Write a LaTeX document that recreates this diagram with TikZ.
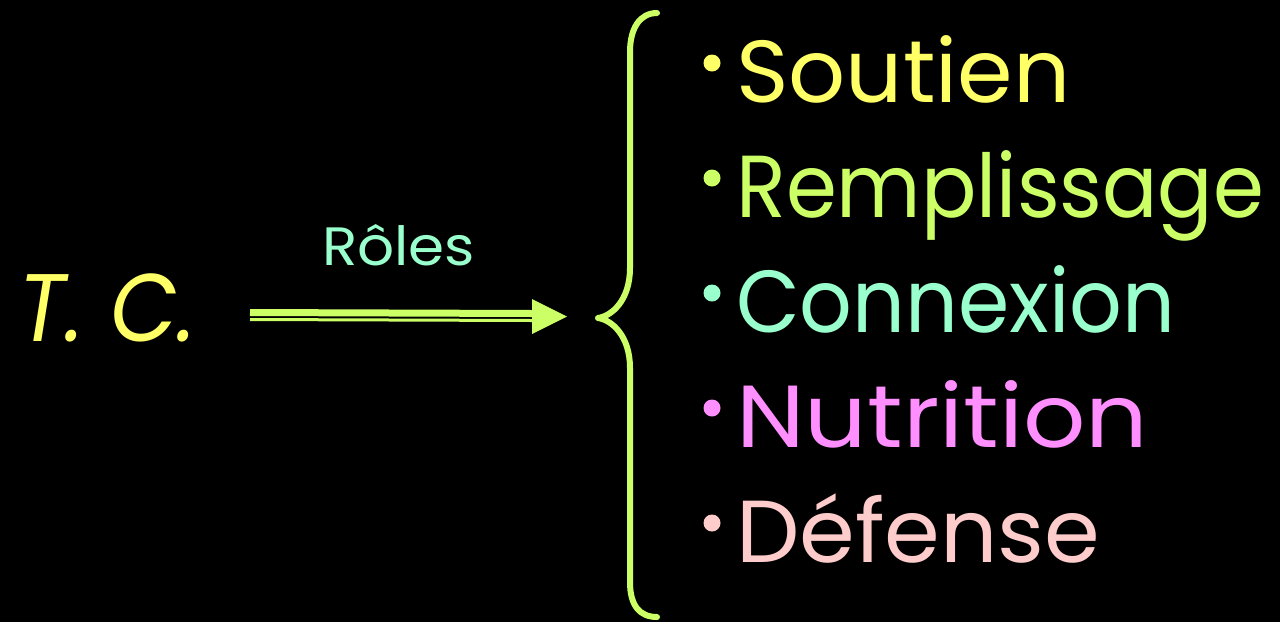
\documentclass[tikz,border=0pt]{standalone}
\usepackage{fontspec}
\setmainfont{Poppins}
\definecolor{cyellow}{HTML}{FFFF66}
\definecolor{clime}{HTML}{CCFF66}
\definecolor{cmint}{HTML}{99FFCC}
\definecolor{cpink}{HTML}{FF8FFF}
\definecolor{crose}{HTML}{FFCCCC}
\newcommand{\fitw}[2]{\resizebox{#1}{\height}{#2}}
\tikzset{
  item/.style={anchor=base west, inner sep=0pt, font=\fontsize{88}{88}\selectfont},
  dot/.style={circle, inner sep=0pt, minimum size=17pt, fill=#1},
  bracestyle/.style={draw=clime, line width=6pt, line cap=round, line join=round},
}
\begin{document}
\begin{tikzpicture}[x=1pt,y=-1pt]
\fill[black] (0,0) rectangle (1280,622);
\useasboundingbox (0,0) rectangle (1280,622);
% left label
\node[anchor=base west, inner sep=0pt, text=cyellow, font=\fontsize{96}{96}\selectfont\itshape] (tc) at (18,341) {\fitw{178pt}{T. C.}};
\node[anchor=base west, inner sep=0pt, text=cmint, font=\fontsize{54}{54}\selectfont] (roles) at (322,265) {\fitw{153pt}{Rôles}};
% arrow
\coordinate (as) at (250,316);
\coordinate (ae) at (567,316.5);
\draw[clime, line width=3pt] ([yshift=-3.5pt]as) -- ([xshift=-35pt,yshift=-4pt]ae);
\draw[clime, line width=7pt] ([yshift=3.5pt]as) -- ([xshift=-35pt,yshift=3pt]ae);
\fill[clime] (ae) -- ++(-35,-17.5) -- ++(0,35) -- cycle;
% brace
\coordinate (btip) at (598,318);
\draw[bracestyle] (657,13) .. controls (640,13) and (630,28) .. (630,52)
  -- (630,268) .. controls (630,300) and (612,316) .. (btip)
  .. controls (612,320) and (630,336) .. (630,368)
  -- (630,582) .. controls (630,606) and (640,617) .. (657,617);
% items
\node[dot=cyellow] (b1) at (712,63) {};
\node[item, text=cyellow] (i1) at (736,102) {\fitw{334pt}{Soutien}};
\node[dot=clime] (b2) at (712,178) {};
\node[item, text=clime] (i2) at (736,217) {\fitw{528pt}{Remplissage}};
\node[dot=cmint] (b3) at (712,293) {};
\node[item, text=cmint] (i3) at (736,332) {\fitw{439pt}{Connexion}};
\node[dot=cpink] (b4) at (712,408) {};
\node[item, text=cpink] (i4) at (736,447) {\fitw{412pt}{Nutrition}};
\node[dot=crose] (b5) at (712,523) {};
\node[item, text=crose] (i5) at (736,562) {\fitw{364pt}{Défense}};
\end{tikzpicture}
\end{document}
